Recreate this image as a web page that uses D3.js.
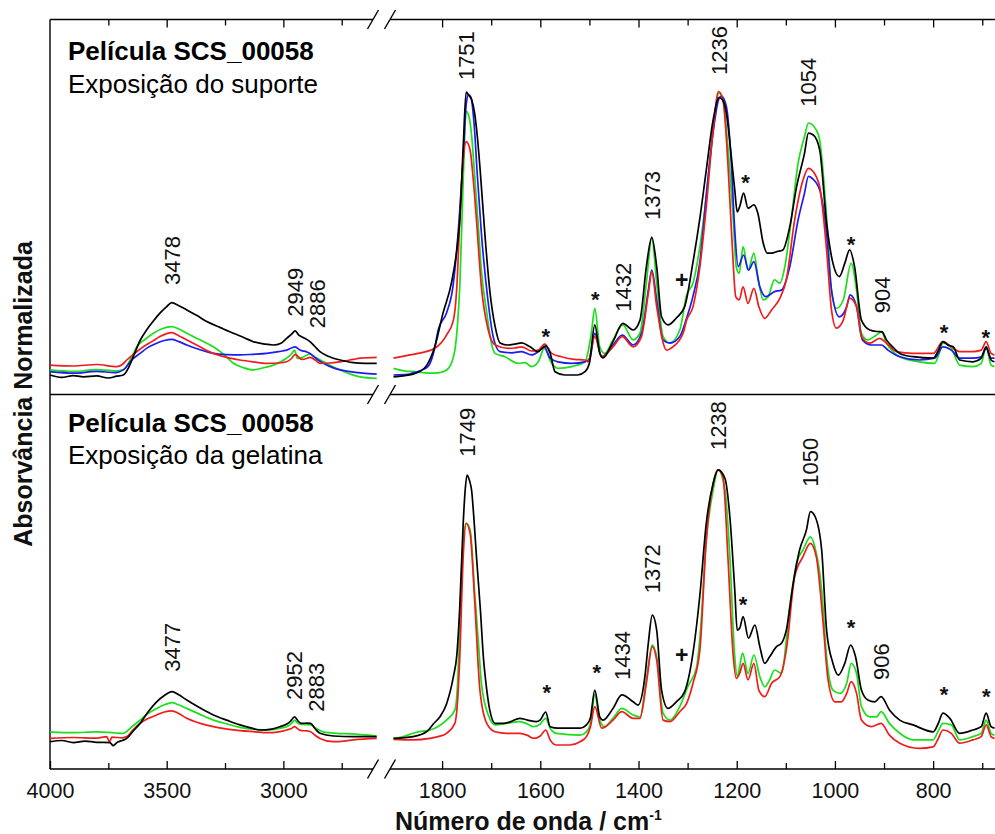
<!DOCTYPE html>
<html>
<head>
<meta charset="utf-8">
<script src="https://cdn.jsdelivr.net/npm/d3@7"></script>
<style>
  html, body { margin: 0; padding: 0; background: #fff; }
  svg { display: block; font-family: "Liberation Sans", Arial, Helvetica, sans-serif; }
</style>
</head>
<body>
<svg id="chart" width="995" height="834"></svg>
<script>
// ---------- Spectra: [wavenumber (cm-1), normalised absorbance] ----------
// Panel 1: exposição do suporte (4 spectra)
const supBlackHi = [[4000,0.060],[3950,0.052],[3900,0.058],[3857,0.054],[3800,0.057],[3750,0.050],[3714,0.056],[3686,0.060],[3660,0.090],[3643,0.121],[3614,0.175],[3586,0.210],[3557,0.240],[3529,0.266],[3500,0.288],[3478,0.301],[3450,0.292],[3414,0.277],[3370,0.258],[3328,0.238],[3270,0.218],[3214,0.199],[3170,0.185],[3129,0.171],[3080,0.163],[3043,0.160],[3010,0.166],[2986,0.182],[2965,0.196],[2949,0.207],[2935,0.194],[2915,0.185],[2886,0.171],[2865,0.155],[2843,0.138],[2815,0.125],[2786,0.116],[2740,0.107],[2700,0.101],[2650,0.099],[2600,0.099]];
const supGreenHi = [[4000,0.077],[3900,0.072],[3800,0.078],[3720,0.074],[3686,0.077],[3650,0.120],[3628,0.154],[3590,0.180],[3557,0.199],[3520,0.214],[3478,0.221],[3450,0.214],[3414,0.199],[3360,0.178],[3300,0.154],[3250,0.125],[3214,0.099],[3170,0.084],[3129,0.077],[3080,0.085],[3043,0.093],[2986,0.116],[2965,0.130],[2952,0.143],[2940,0.115],[2915,0.120],[2886,0.130],[2860,0.118],[2829,0.105],[2790,0.088],[2757,0.077],[2710,0.062],[2671,0.054],[2600,0.049]];
const supBlueHi = [[4000,0.071],[3900,0.066],[3800,0.072],[3720,0.068],[3686,0.077],[3650,0.110],[3614,0.132],[3580,0.152],[3543,0.166],[3510,0.175],[3478,0.179],[3450,0.172],[3414,0.160],[3360,0.145],[3300,0.132],[3240,0.128],[3186,0.127],[3130,0.129],[3071,0.132],[3020,0.138],[2986,0.143],[2965,0.150],[2949,0.154],[2929,0.143],[2900,0.137],[2886,0.132],[2860,0.115],[2829,0.099],[2780,0.082],[2714,0.071],[2660,0.066],[2600,0.063]];
const supRedHi = [[4000,0.093],[3900,0.090],[3800,0.095],[3714,0.088],[3690,0.095],[3671,0.110],[3640,0.130],[3600,0.154],[3560,0.173],[3529,0.188],[3478,0.201],[3450,0.192],[3414,0.177],[3360,0.155],[3300,0.132],[3240,0.118],[3186,0.110],[3130,0.104],[3071,0.099],[3020,0.100],[2986,0.104],[2965,0.115],[2949,0.129],[2921,0.112],[2900,0.115],[2886,0.119],[2860,0.108],[2843,0.099],[2800,0.100],[2757,0.104],[2700,0.112],[2671,0.116],[2600,0.119]];

const supBlackLo = [[1899,0.054],[1880,0.057],[1859,0.063],[1845,0.072],[1831,0.093],[1815,0.154],[1798,0.267],[1781,0.367],[1770,0.477],[1764,0.577],[1757,0.820],[1751,1.003],[1746,0.993],[1740,0.978],[1734,0.935],[1728,0.850],[1723,0.754],[1713,0.532],[1703,0.343],[1692,0.221],[1682,0.167],[1666,0.160],[1652,0.163],[1638,0.167],[1621,0.154],[1605,0.138],[1589,0.157],[1580,0.133],[1570,0.071],[1550,0.060],[1524,0.060],[1509,0.071],[1500,0.100],[1489,0.227],[1479,0.133],[1472,0.117],[1452,0.171],[1432,0.232],[1411,0.210],[1397,0.243],[1384,0.421],[1373,0.519],[1363,0.421],[1353,0.254],[1340,0.227],[1323,0.250],[1306,0.288],[1289,0.437],[1275,0.583],[1262,0.743],[1248,0.910],[1236,0.985],[1228,0.975],[1221,0.932],[1211,0.788],[1204,0.677],[1199,0.604],[1194,0.621],[1186,0.666],[1177,0.616],[1165,0.627],[1157,0.599],[1146,0.499],[1138,0.466],[1128,0.466],[1119,0.471],[1106,0.477],[1092,0.554],[1078,0.688],[1062,0.799],[1054,0.866],[1044,0.860],[1031,0.810],[1017,0.566],[1004,0.432],[991,0.388],[980,0.432],[970,0.477],[960,0.421],[946,0.243],[929,0.210],[915,0.205],[904,0.204],[895,0.177],[880,0.150],[868,0.132],[841,0.121],[800,0.116],[790,0.140],[780,0.171],[770,0.160],[759,0.154],[746,0.110],[719,0.104],[702,0.116],[692,0.154],[682,0.110],[675,0.104]];
const supGreenLo = [[1899,0.082],[1875,0.073],[1855,0.071],[1835,0.067],[1815,0.066],[1800,0.070],[1787,0.082],[1774,0.143],[1768,0.243],[1764,0.354],[1757,0.710],[1751,0.940],[1745,0.920],[1740,0.860],[1733,0.710],[1726,0.550],[1720,0.410],[1709,0.267],[1701,0.177],[1692,0.132],[1672,0.121],[1645,0.099],[1631,0.101],[1618,0.088],[1604,0.104],[1592,0.149],[1577,0.099],[1564,0.082],[1536,0.088],[1509,0.104],[1496,0.200],[1489,0.282],[1479,0.154],[1469,0.132],[1452,0.177],[1432,0.227],[1411,0.177],[1397,0.200],[1384,0.367],[1373,0.516],[1363,0.367],[1350,0.188],[1336,0.167],[1316,0.210],[1302,0.327],[1289,0.367],[1275,0.488],[1262,0.654],[1248,0.877],[1236,1.000],[1228,0.977],[1218,0.821],[1207,0.577],[1201,0.421],[1195,0.399],[1187,0.488],[1177,0.410],[1165,0.466],[1157,0.388],[1146,0.310],[1136,0.321],[1123,0.377],[1112,0.366],[1102,0.421],[1089,0.577],[1075,0.766],[1062,0.854],[1054,0.900],[1038,0.877],[1031,0.843],[1017,0.588],[1007,0.343],[997,0.282],[983,0.310],[967,0.432],[956,0.343],[946,0.199],[933,0.177],[918,0.190],[905,0.204],[895,0.166],[880,0.135],[868,0.121],[828,0.104],[797,0.099],[788,0.130],[780,0.166],[763,0.149],[746,0.093],[719,0.088],[702,0.099],[692,0.154],[682,0.093],[675,0.088]];
const supBlueLo = [[1899,0.060],[1870,0.062],[1859,0.067],[1829,0.088],[1815,0.150],[1808,0.210],[1791,0.267],[1778,0.354],[1768,0.521],[1757,0.790],[1751,0.960],[1746,0.995],[1741,0.985],[1735,0.900],[1728,0.720],[1720,0.533],[1706,0.300],[1696,0.188],[1682,0.138],[1658,0.134],[1638,0.138],[1618,0.127],[1604,0.138],[1592,0.154],[1580,0.116],[1564,0.104],[1536,0.099],[1509,0.104],[1499,0.116],[1489,0.199],[1475,0.121],[1452,0.160],[1433,0.193],[1411,0.160],[1394,0.199],[1380,0.343],[1373,0.410],[1363,0.310],[1350,0.177],[1336,0.166],[1316,0.188],[1302,0.250],[1289,0.323],[1275,0.437],[1262,0.660],[1248,0.870],[1236,0.982],[1231,0.990],[1221,0.954],[1211,0.766],[1204,0.543],[1197,0.421],[1186,0.460],[1176,0.410],[1165,0.438],[1153,0.354],[1141,0.321],[1123,0.338],[1109,0.343],[1092,0.421],[1075,0.577],[1062,0.666],[1054,0.722],[1046,0.715],[1031,0.677],[1017,0.532],[1007,0.343],[991,0.254],[976,0.288],[969,0.327],[956,0.288],[944,0.177],[926,0.160],[905,0.160],[892,0.143],[868,0.121],[828,0.110],[797,0.116],[780,0.154],[763,0.143],[746,0.116],[719,0.116],[702,0.121],[692,0.149],[682,0.116],[675,0.116]];
const supRedLo = [[1899,0.116],[1875,0.124],[1849,0.132],[1815,0.149],[1791,0.193],[1777,0.243],[1770,0.354],[1764,0.577],[1757,0.777],[1751,0.838],[1743,0.810],[1737,0.720],[1730,0.577],[1720,0.354],[1706,0.210],[1692,0.160],[1665,0.149],[1652,0.150],[1638,0.154],[1618,0.140],[1604,0.143],[1591,0.163],[1577,0.132],[1557,0.121],[1530,0.112],[1509,0.110],[1503,0.104],[1489,0.188],[1475,0.121],[1452,0.154],[1433,0.188],[1411,0.154],[1394,0.188],[1380,0.332],[1373,0.404],[1363,0.288],[1343,0.143],[1330,0.154],[1309,0.200],[1302,0.243],[1289,0.288],[1275,0.421],[1262,0.621],[1248,0.877],[1237,1.005],[1228,0.977],[1218,0.766],[1209,0.488],[1202,0.321],[1195,0.310],[1187,0.354],[1177,0.299],[1165,0.349],[1155,0.288],[1143,0.249],[1129,0.277],[1112,0.316],[1099,0.377],[1082,0.577],[1065,0.710],[1054,0.749],[1038,0.721],[1031,0.688],[1017,0.477],[1007,0.277],[997,0.216],[983,0.243],[970,0.316],[956,0.288],[946,0.188],[929,0.166],[909,0.182],[895,0.166],[875,0.138],[841,0.132],[800,0.132],[780,0.171],[763,0.154],[746,0.138],[719,0.138],[702,0.143],[692,0.171],[682,0.132],[675,0.127]];

// Panel 2: exposição da gelatina (3 spectra)
const gelBlackHi = [[4000,0.091],[3950,0.095],[3900,0.088],[3850,0.093],[3800,0.089],[3743,0.088],[3730,0.078],[3710,0.090],[3690,0.095],[3671,0.102],[3645,0.125],[3614,0.152],[3580,0.190],[3543,0.224],[3510,0.245],[3477,0.258],[3450,0.248],[3414,0.230],[3360,0.205],[3300,0.180],[3240,0.162],[3186,0.147],[3140,0.137],[3100,0.130],[3050,0.133],[3014,0.141],[2985,0.150],[2971,0.158],[2952,0.174],[2935,0.158],[2921,0.152],[2900,0.153],[2883,0.152],[2865,0.135],[2843,0.119],[2786,0.110],[2700,0.108],[2600,0.108]];
const gelGreenHi = [[4000,0.124],[3900,0.121],[3800,0.124],[3720,0.120],[3686,0.119],[3650,0.140],[3614,0.163],[3580,0.185],[3543,0.202],[3510,0.214],[3477,0.221],[3450,0.214],[3414,0.202],[3360,0.183],[3300,0.163],[3240,0.150],[3186,0.139],[3120,0.132],[3071,0.130],[3020,0.135],[2986,0.141],[2965,0.152],[2952,0.163],[2935,0.150],[2910,0.148],[2883,0.147],[2860,0.136],[2829,0.124],[2770,0.119],[2714,0.117],[2600,0.110]];
const gelRedHi = [[4000,0.102],[3900,0.105],[3800,0.103],[3757,0.108],[3745,0.090],[3735,0.106],[3690,0.104],[3671,0.108],[3645,0.130],[3614,0.152],[3580,0.168],[3543,0.180],[3510,0.190],[3477,0.194],[3450,0.186],[3414,0.169],[3360,0.153],[3300,0.141],[3240,0.133],[3186,0.128],[3120,0.124],[3071,0.121],[3020,0.124],[2986,0.130],[2965,0.135],[2952,0.141],[2935,0.132],[2921,0.128],[2900,0.127],[2883,0.124],[2860,0.110],[2843,0.102],[2786,0.091],[2740,0.093],[2700,0.097],[2600,0.102]];

const gelBlackLo = [[1899,0.102],[1859,0.108],[1831,0.125],[1818,0.150],[1804,0.175],[1791,0.217],[1777,0.308],[1770,0.380],[1764,0.541],[1757,0.820],[1753,0.930],[1749,0.980],[1744,0.960],[1740,0.930],[1735,0.830],[1730,0.708],[1722,0.530],[1716,0.374],[1709,0.263],[1703,0.197],[1692,0.152],[1676,0.152],[1660,0.158],[1642,0.169],[1626,0.163],[1608,0.158],[1600,0.164],[1589,0.190],[1580,0.141],[1564,0.136],[1519,0.136],[1506,0.147],[1498,0.170],[1489,0.263],[1479,0.174],[1472,0.163],[1452,0.202],[1434,0.247],[1411,0.224],[1401,0.213],[1387,0.308],[1380,0.420],[1372,0.513],[1363,0.463],[1353,0.263],[1340,0.202],[1323,0.224],[1306,0.258],[1289,0.387],[1275,0.580],[1262,0.819],[1248,0.952],[1238,0.997],[1224,0.969],[1214,0.841],[1204,0.597],[1199,0.463],[1194,0.469],[1187,0.508],[1176,0.436],[1163,0.480],[1153,0.408],[1143,0.352],[1133,0.374],[1119,0.408],[1109,0.419],[1099,0.463],[1085,0.619],[1072,0.730],[1058,0.797],[1050,0.858],[1040,0.840],[1027,0.730],[1017,0.463],[1004,0.352],[993,0.313],[980,0.352],[968,0.413],[958,0.374],[946,0.263],[933,0.230],[919,0.224],[906,0.241],[889,0.197],[868,0.163],[841,0.147],[800,0.124],[790,0.150],[780,0.186],[766,0.169],[746,0.119],[719,0.130],[702,0.141],[692,0.186],[682,0.141],[675,0.136]];
const gelGreenLo = [[1899,0.102],[1875,0.110],[1859,0.119],[1840,0.126],[1825,0.130],[1808,0.142],[1791,0.163],[1774,0.197],[1768,0.300],[1764,0.486],[1757,0.763],[1751,0.819],[1743,0.797],[1733,0.574],[1726,0.420],[1720,0.286],[1706,0.180],[1692,0.147],[1669,0.152],[1642,0.158],[1626,0.150],[1614,0.141],[1600,0.150],[1589,0.169],[1580,0.136],[1567,0.119],[1519,0.113],[1506,0.124],[1498,0.150],[1489,0.247],[1479,0.163],[1469,0.141],[1452,0.169],[1434,0.202],[1411,0.180],[1397,0.174],[1384,0.297],[1372,0.413],[1363,0.374],[1350,0.186],[1336,0.163],[1316,0.208],[1299,0.277],[1282,0.337],[1275,0.437],[1262,0.763],[1248,0.930],[1238,0.997],[1224,0.930],[1214,0.708],[1204,0.374],[1199,0.308],[1194,0.341],[1188,0.386],[1177,0.319],[1165,0.380],[1153,0.308],[1143,0.274],[1133,0.297],[1123,0.330],[1109,0.319],[1092,0.541],[1078,0.686],[1065,0.730],[1050,0.774],[1041,0.741],[1027,0.597],[1017,0.374],[1004,0.263],[990,0.252],[976,0.286],[967,0.352],[956,0.319],[946,0.208],[929,0.174],[915,0.174],[906,0.191],[889,0.152],[868,0.119],[841,0.097],[800,0.097],[790,0.125],[780,0.152],[763,0.147],[746,0.097],[719,0.108],[702,0.119],[692,0.163],[682,0.119],[675,0.113]];
const gelRedLo = [[1899,0.099],[1859,0.097],[1825,0.102],[1808,0.108],[1791,0.119],[1774,0.152],[1768,0.240],[1764,0.374],[1757,0.708],[1751,0.819],[1743,0.786],[1733,0.541],[1723,0.263],[1709,0.152],[1692,0.124],[1669,0.119],[1642,0.119],[1626,0.112],[1614,0.102],[1600,0.110],[1589,0.130],[1580,0.097],[1567,0.080],[1540,0.080],[1519,0.091],[1506,0.108],[1498,0.140],[1489,0.208],[1475,0.136],[1452,0.163],[1434,0.191],[1411,0.169],[1397,0.169],[1384,0.286],[1372,0.408],[1363,0.363],[1350,0.163],[1336,0.158],[1316,0.191],[1302,0.219],[1289,0.286],[1275,0.397],[1262,0.763],[1248,0.952],[1238,0.997],[1228,0.974],[1218,0.708],[1207,0.374],[1201,0.302],[1194,0.319],[1187,0.352],[1177,0.297],[1165,0.352],[1155,0.263],[1143,0.241],[1129,0.286],[1112,0.308],[1099,0.397],[1082,0.641],[1065,0.708],[1050,0.752],[1038,0.708],[1024,0.486],[1014,0.297],[1000,0.224],[987,0.224],[976,0.252],[967,0.291],[956,0.252],[946,0.163],[926,0.141],[906,0.152],[889,0.113],[868,0.086],[828,0.069],[800,0.074],[790,0.100],[780,0.130],[763,0.119],[746,0.086],[719,0.097],[702,0.108],[692,0.147],[682,0.108],[675,0.102]];

// Band assignments: [wavenumber, height of label foot]
const supPeaks = [[3478,0.360],[2949,0.254],[2886,0.216],[1751,1.043],[1432,0.271],[1373,0.577],[1236,1.060],[1054,0.954],[904,0.266]];
const gelPeaks = [[3477,0.324],[2952,0.230],[2883,0.191],[1749,1.041],[1434,0.297],[1372,0.586],[1238,1.063],[1050,0.941],[906,0.297]];

// Marked bands: [symbol, wavenumber, height]
const supMarks = [["*",1589,0.210],["*",1488,0.332],["+",1312,0.377],["*",1182,0.721],["*",967,0.516],["*",778,0.221],["*",693,0.204]];
const gelMarks = [["*",1587,0.274],["*",1485,0.341],["+",1312,0.380],["*",1187,0.569],["*",967,0.491],["*",778,0.269],["*",692,0.263]];

// Axis ticks
const hiMajor = [4000, 3500, 3000];
const hiMinor = [3750, 3250, 2750];
const loMajor = [1800, 1600, 1400, 1200, 1000, 800];
const loMinor = [1700, 1500, 1300, 1100, 900, 700];

const panelTitles = ["Película SCS_00058", "Película SCS_00058"];
const panelSubtitles = ["Exposição do suporte", "Exposição da gelatina"];
const xTitle = "Número de onda / cm";
const yTitle = "Absorvância Normalizada";

// ---------- Layout ----------
const COLORS = { black: "#000000", green: "#19e019", blue: "#1c1cf0", red: "#f01c1c" };
const FONT_NUM = 21.5;

const svg = d3.select("#chart");

const left = 50, right = 995;
const breakL = 373, breakR = 390;
const xHi = d3.scaleLinear().domain([4000, 2600]).range([left, 376.7]);
const xLo = d3.scaleLinear().domain([1900, 674]).range([393, 995]);
const xOf = wn => (wn >= 2300 ? xHi(wn) : xLo(wn));

const frameTop = 19.5, frameMid = 394.5, frameBot = 769;
const yTop = d3.scaleLinear().domain([0, 1]).range([393, 93]);
const yBot = d3.scaleLinear().domain([0, 1]).range([769, 469]);

const panels = [
  {
    y: yTop, titleY: 60, subY: 93,
    series: [
      { hi: supGreenHi, lo: supGreenLo, c: COLORS.green },
      { hi: supBlueHi, lo: supBlueLo, c: COLORS.blue },
      { hi: supRedHi, lo: supRedLo, c: COLORS.red },
      { hi: supBlackHi, lo: supBlackLo, c: COLORS.black }
    ],
    peaks: supPeaks, marks: supMarks
  },
  {
    y: yBot, titleY: 432, subY: 464,
    series: [
      { hi: gelGreenHi, lo: gelGreenLo, c: COLORS.green },
      { hi: gelRedHi, lo: gelRedLo, c: COLORS.red },
      { hi: gelBlackHi, lo: gelBlackLo, c: COLORS.black }
    ],
    peaks: gelPeaks, marks: gelMarks
  }
];

// ---------- Frame with axis breaks ----------
const frame = svg.append("g").attr("stroke", "#000").attr("stroke-width", 1.4).attr("fill", "none");
frame.append("line").attr("x1", left).attr("x2", left).attr("y1", frameTop).attr("y2", frameBot);
[frameTop, frameMid, frameBot].forEach(yy => {
  frame.append("line").attr("x1", left).attr("x2", breakL).attr("y1", yy).attr("y2", yy);
  frame.append("line").attr("x1", breakR).attr("x2", right).attr("y1", yy).attr("y2", yy);
  [breakL, breakR].forEach(cx => {
    frame.append("line")
      .attr("x1", cx - 5.5).attr("y1", yy + 9.5)
      .attr("x2", cx + 5.5).attr("y2", yy - 9.5);
  });
});

// ---------- Axes (ticks point inwards) ----------
function drawAxis(scale, values, size, y, top, labelled) {
  const ax = (top ? d3.axisTop(scale) : d3.axisBottom(scale))
    .tickValues(values)
    .tickSize(-size)
    .tickSizeOuter(0)
    .tickPadding(14)
    .tickFormat(labelled ? d3.format("d") : () => "");
  const g = svg.append("g").attr("transform", `translate(0,${y})`).call(ax);
  g.select(".domain").remove();
  g.selectAll(".tick line").attr("stroke", "#000").attr("stroke-width", 1.3);
  g.selectAll(".tick text")
    .attr("font-size", FONT_NUM)
    .attr("font-family", "'Liberation Sans', Arial, sans-serif")
    .attr("fill", "#111");
  if (top) g.selectAll(".tick text").remove();
}
drawAxis(xHi, hiMajor.filter(v => v !== 4000), 8, frameTop, true, false);
drawAxis(xHi, hiMinor, 6, frameTop, true, false);
drawAxis(xLo, loMajor, 8, frameTop, true, false);
drawAxis(xLo, loMinor, 6, frameTop, true, false);
drawAxis(xHi, hiMajor, 8, frameBot, false, true);
drawAxis(xHi, hiMinor, 6, frameBot, false, false);
drawAxis(xLo, loMajor, 8, frameBot, false, true);
drawAxis(xLo, loMinor, 6, frameBot, false, false);

// ---------- Spectra ----------
panels.forEach((p, pi) => {
  const g = svg.append("g");
  [[xHi, "hi"], [xLo, "lo"]].forEach(([xs, key]) => {
    const line = d3.line()
      .x(d => xs(d[0]))
      .y(d => p.y(d[1]))
      .curve(d3.curveMonotoneX);
    p.series.forEach(s => {
      g.append("path")
        .datum(s[key])
        .attr("d", line)
        .attr("fill", "none")
        .attr("stroke", s.c)
        .attr("stroke-width", 1.7)
        .attr("stroke-linejoin", "round");
    });
  });

  // band labels, vertical; neighbours pushed apart when too close
  const labels = p.peaks.map(([wn, h]) => ({ wn, h, x: xOf(wn) }));
  for (let i = 1; i < labels.length; i++) {
    if (labels[i].x - labels[i - 1].x < 22 && labels[i].x > labels[i - 1].x) {
      labels[i].x = labels[i - 1].x + 22;
    }
  }
  g.selectAll("text.band").data(labels).join("text")
    .attr("class", "band")
    .attr("transform", d => `translate(${d.x},${p.y(d.h)}) rotate(-90)`)
    .attr("dy", "0.36em")
    .attr("text-anchor", "start")
    .attr("font-size", 22)
    .attr("fill", "#111")
    .text(d => d.wn);

  // marked bands (* and +)
  g.selectAll("text.mark").data(p.marks).join("text")
    .attr("class", "mark")
    .attr("x", d => xOf(d[1]))
    .attr("y", d => p.y(d[2]))
    .attr("dy", d => (d[0] === "*" ? "0.62em" : "0.34em"))
    .attr("text-anchor", "middle")
    .attr("font-size", d => (d[0] === "*" ? 22 : 23))
    .attr("font-weight", "bold")
    .attr("fill", "#111")
    .text(d => d[0]);

  svg.append("text")
    .attr("x", 68).attr("y", p.titleY)
    .attr("font-size", 26).attr("font-weight", "bold").attr("fill", "#000")
    .text(panelTitles[pi]);
  svg.append("text")
    .attr("x", 68).attr("y", p.subY)
    .attr("font-size", 26).attr("fill", "#000")
    .text(panelSubtitles[pi]);
});

// ---------- Axis titles ----------
const xt = svg.append("text")
  .attr("x", 395).attr("y", 830)
  .attr("font-size", 25).attr("font-weight", "bold").attr("fill", "#111");
xt.append("tspan").text(xTitle);
xt.append("tspan").attr("dy", -10).attr("font-size", 14).text("-1");

svg.append("text")
  .attr("transform", "translate(32,394) rotate(-90)")
  .attr("text-anchor", "middle")
  .attr("font-size", 25).attr("font-weight", "bold").attr("fill", "#111")
  .text(yTitle);
</script>
</body>
</html>
